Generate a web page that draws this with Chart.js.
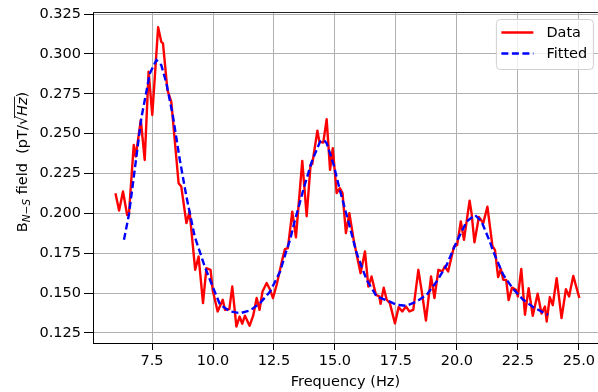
<!DOCTYPE html>
<html>
<head>
<meta charset="utf-8">
<script src="https://cdn.jsdelivr.net/npm/chart.js@4"></script>
<style>
  html, body { margin: 0; padding: 0; background: #fff; }
  canvas { display: block; }
</style>
</head>
<body>
<canvas id="chart" width="598" height="392"></canvas>
<script>
// measured spectrum (Hz, pT/sqrt(Hz))
const dataFreq = [6.0, 6.15, 6.31, 6.48, 6.55, 6.75, 6.83, 7.04, 7.20, 7.36, 7.51, 7.75, 7.88, 7.95, 8.13, 8.29,
  8.59, 8.70, 8.91, 9.04, 9.27, 9.41, 9.59, 9.73, 9.90, 9.99, 10.19, 10.40, 10.49, 10.67, 10.79, 10.96,
  11.09, 11.2, 11.31, 11.50, 11.65, 11.79, 11.91, 12.03, 12.2, 12.34, 12.46, 12.61, 12.84, 12.95, 13.07,
  13.25, 13.40, 13.66, 13.84, 14.0, 14.07, 14.28, 14.36, 14.52, 14.66, 14.80, 14.91, 15.07, 15.20, 15.31,
  15.45, 15.59, 15.78, 16.05, 16.23, 16.37, 16.50, 16.68, 16.82, 16.87, 17.0, 17.12, 17.25, 17.46, 17.61,
  17.76, 17.91, 18.05, 18.21, 18.42, 18.57, 18.73, 18.94, 19.08, 19.24, 19.40, 19.50, 19.64, 19.88, 20.01,
  20.16, 20.29, 20.52, 20.60, 20.72, 20.90, 21.08, 21.25, 21.46, 21.56, 21.69, 21.80, 21.90, 22.02, 22.12,
  22.26, 22.42, 22.50, 22.64, 22.79, 22.94, 23.11, 23.31, 23.47, 23.61, 23.68, 23.81, 23.93, 24.09, 24.29,
  24.47, 24.60, 24.77, 25.02]
const dataField = [0.2126, 0.2018, 0.2137, 0.1990, 0.1990, 0.2429, 0.2356, 0.2586, 0.2335, 0.2889, 0.2617,
  0.3167, 0.3076, 0.3066, 0.2774, 0.2700, 0.2189, 0.2168, 0.1939, 0.2011, 0.1646, 0.1729, 0.1437, 0.1656,
  0.1646, 0.1516, 0.1385, 0.1458, 0.1395, 0.1400, 0.1541, 0.1290, 0.1353, 0.1308, 0.1358, 0.1295, 0.1360,
  0.1469, 0.1395, 0.1510, 0.1563, 0.1521, 0.1469, 0.1552, 0.1709, 0.1776, 0.1782, 0.2011, 0.1850, 0.2329,
  0.1982, 0.2304, 0.2310, 0.2519, 0.2450, 0.2444, 0.2590, 0.2273, 0.2409, 0.2127, 0.2158, 0.2127, 0.1876,
  0.2001, 0.1823, 0.1625, 0.1761, 0.1541, 0.1604, 0.1489, 0.1479, 0.1433, 0.1534, 0.1458, 0.1437, 0.1310,
  0.1412, 0.1385, 0.1416, 0.1385, 0.1395, 0.1646, 0.1500, 0.1328, 0.1604, 0.1469, 0.1646, 0.1636, 0.1667,
  0.1636, 0.1792, 0.1802, 0.1949, 0.1834, 0.2080, 0.2001, 0.1818, 0.1977, 0.1939, 0.2042, 0.1792, 0.1771,
  0.1600, 0.1651, 0.1583, 0.1583, 0.1456, 0.1534, 0.1521, 0.1479, 0.1651, 0.1364, 0.1531, 0.1358, 0.1496,
  0.1372, 0.1416, 0.1322, 0.1475, 0.1424, 0.1594, 0.1343, 0.1525, 0.1479, 0.1608, 0.1469]

// fitted curve
const fitFreq = [6.35, 6.55, 6.86, 7.06, 7.41, 7.68, 7.88, 8.09, 8.36, 8.64, 8.91, 9.25, 9.66, 10.0, 10.29,
  10.70, 11.11, 11.52, 11.93, 12.34, 12.75, 13.02, 13.16, 13.36, 13.50, 13.70, 14.05, 14.39, 14.55, 14.66,
  14.93, 15.20, 15.55, 15.89, 16.30, 16.71, 17.19, 17.53, 17.94, 18.35, 18.76, 19.17, 19.58, 19.99, 20.40,
  20.74, 21.01, 21.35, 21.49, 21.90, 22.31, 22.72, 23.13, 23.54, 23.74]
const fitField = [0.1834, 0.1990, 0.2356, 0.2596, 0.2878, 0.2962, 0.2930, 0.2816, 0.2607, 0.2335, 0.2105,
  0.1855, 0.1667, 0.1535, 0.1427, 0.1385, 0.1374, 0.1391, 0.1437, 0.1510, 0.1635, 0.1771, 0.1834, 0.1959,
  0.2033, 0.2147, 0.2325, 0.2450, 0.2460, 0.2440, 0.2314, 0.2147, 0.1949, 0.1750, 0.1583, 0.1479, 0.1450,
  0.1427, 0.1420, 0.1447, 0.1489, 0.1573, 0.1677, 0.1823, 0.1949, 0.1990, 0.1949, 0.1823, 0.1761, 0.1615,
  0.1525, 0.1458, 0.1412, 0.1378, 0.1364]

const xTicks = [7.5, 10.0, 12.5, 15.0, 17.5, 20.0, 22.5, 25.0]
const yTicks = [0.125, 0.150, 0.175, 0.200, 0.225, 0.250, 0.275, 0.300, 0.325]
const seriesNames = ['Data', 'Fitted']
const xTitle = 'Frequency (Hz)'

const FONT = '"DejaVu Sans", "Liberation Sans", sans-serif'

function toPoints(xs, ys){
    return xs.map((x, i) => ({x: x, y: ys[i]}))
}

// matplotlib-ish legend box inside the axes, upper right
const legendBox = {
    id: 'legendBox',
    afterDatasetsDraw(chart){
        const ctx = chart.ctx
        const a = chart.chartArea
        const x = a.right - 101.5, y = a.top + 7.5, w = 97, h = 50
        ctx.save()
        ctx.fillStyle = 'rgba(255,255,255,0.8)'
        ctx.strokeStyle = '#d0d0d0'
        ctx.lineWidth = 1
        ctx.beginPath()
        ctx.roundRect(x, y, w, h, 4)
        ctx.fill()
        ctx.stroke()
        ctx.font = `14.5px ${FONT}`
        ctx.textBaseline = 'middle'
        ctx.fillStyle = '#000'
        chart.data.datasets.forEach((ds, i) => {
            const ly = y + 13 + i * 21
            ctx.strokeStyle = ds.borderColor
            ctx.lineWidth = ds.borderWidth
            ctx.setLineDash(ds.borderDash || [])
            ctx.beginPath()
            ctx.moveTo(x + 5, ly)
            ctx.lineTo(x + 37, ly)
            ctx.stroke()
            ctx.setLineDash([])
            ctx.fillText(ds.label, x + 50, ly + 1)
        })
        ctx.restore()
    }
}

// axis titles + top spine
const axisTitles = {
    id: 'axisTitles',
    afterDraw(chart){
        const ctx = chart.ctx
        const a = chart.chartArea
        ctx.save()
        ctx.strokeStyle = '#222'
        ctx.lineWidth = 1
        ctx.beginPath()
        ctx.moveTo(a.left, a.top + 0.5)
        ctx.lineTo(a.right, a.top + 0.5)
        ctx.stroke()

        ctx.fillStyle = '#000'
        ctx.font = `14.5px ${FONT}`
        ctx.textAlign = 'center'
        ctx.textBaseline = 'middle'
        ctx.fillText(xTitle, (a.left + a.right) / 2, 382)

        // B_{N-S} field  (pT/sqrt(Hz))
        const big = `14.5px ${FONT}`
        const small = `italic 10.5px ${FONT}`
        const parts = [
            {t: 'B', f: big, dy: 0},
            {t: 'N\u2212S', f: small, dy: 3},
            {t: ' field  (pT/', f: big, dy: 0},
            {t: '\u221A', f: big, dy: 0},
            {t: 'Hz', f: `italic 14.5px ${FONT}`, dy: 0, bar: true},
            {t: ')', f: big, dy: 0}
        ]
        let total = 0
        for (const p of parts){
            ctx.font = p.f
            p.w = ctx.measureText(p.t).width
            total += p.w
        }
        ctx.translate(22, 162)
        ctx.rotate(-Math.PI / 2)
        ctx.textAlign = 'left'
        ctx.textBaseline = 'alphabetic'
        let cx = -total / 2
        for (const p of parts){
            ctx.font = p.f
            ctx.fillText(p.t, cx, 5 + p.dy)
            if (p.bar){
                ctx.lineWidth = 1
                ctx.beginPath()
                ctx.moveTo(cx - 2, -7.5)
                ctx.lineTo(cx + p.w + 1, -7.5)
                ctx.stroke()
            }
            cx += p.w
        }
        ctx.restore()
    }
}

Chart.defaults.font.family = FONT
Chart.defaults.font.size = 14.5
Chart.defaults.color = '#000'
Chart.defaults.animation = false

new Chart(document.getElementById('chart'), {
    type: 'line',
    data: {
        datasets: [
            {
                label: seriesNames[0],
                data: toPoints(dataFreq, dataField),
                borderColor: '#ff0000',
                borderWidth: 2.4,
                borderJoinStyle: 'round',
                pointRadius: 0,
                tension: 0,
                order: 1
            },
            {
                label: seriesNames[1],
                data: toPoints(fitFreq, fitField),
                borderColor: '#0000ff',
                borderWidth: 2.4,
                borderDash: [7, 3.5],
                pointRadius: 0,
                tension: 0,
                order: 0
            }
        ]
    },
    options: {
        responsive: false,
        events: [],
        layout: {
            padding: {top: 12, right: 0, left: 0, bottom: 0}
        },
        scales: {
            x: {
                type: 'linear',
                min: 5.08,
                max: 25.78,
                afterFit: s => { s.height = 49 },
                afterBuildTicks: s => { s.ticks = xTicks.map(v => ({value: v})) },
                grid: {
                    color: '#b0b0b0',
                    lineWidth: 1,
                    tickColor: '#000',
                    tickLength: 7
                },
                border: {color: '#000', width: 1},
                ticks: {
                    padding: 3,
                    maxRotation: 0,
                    callback: v => v.toFixed(1)
                }
            },
            y: {
                type: 'linear',
                min: 0.1187,
                max: 0.3263,
                afterFit: s => { s.width = 93 },
                afterBuildTicks: s => { s.ticks = yTicks.map(v => ({value: v})) },
                grid: {
                    color: '#b0b0b0',
                    lineWidth: 1,
                    tickColor: '#000',
                    tickLength: 9
                },
                border: {color: '#000', width: 1},
                ticks: {
                    padding: 3,
                    callback: v => v.toFixed(3)
                }
            }
        },
        plugins: {
            legend: {display: false},
            tooltip: {enabled: false}
        }
    },
    plugins: [legendBox, axisTitles]
})
</script>
</body>
</html>
